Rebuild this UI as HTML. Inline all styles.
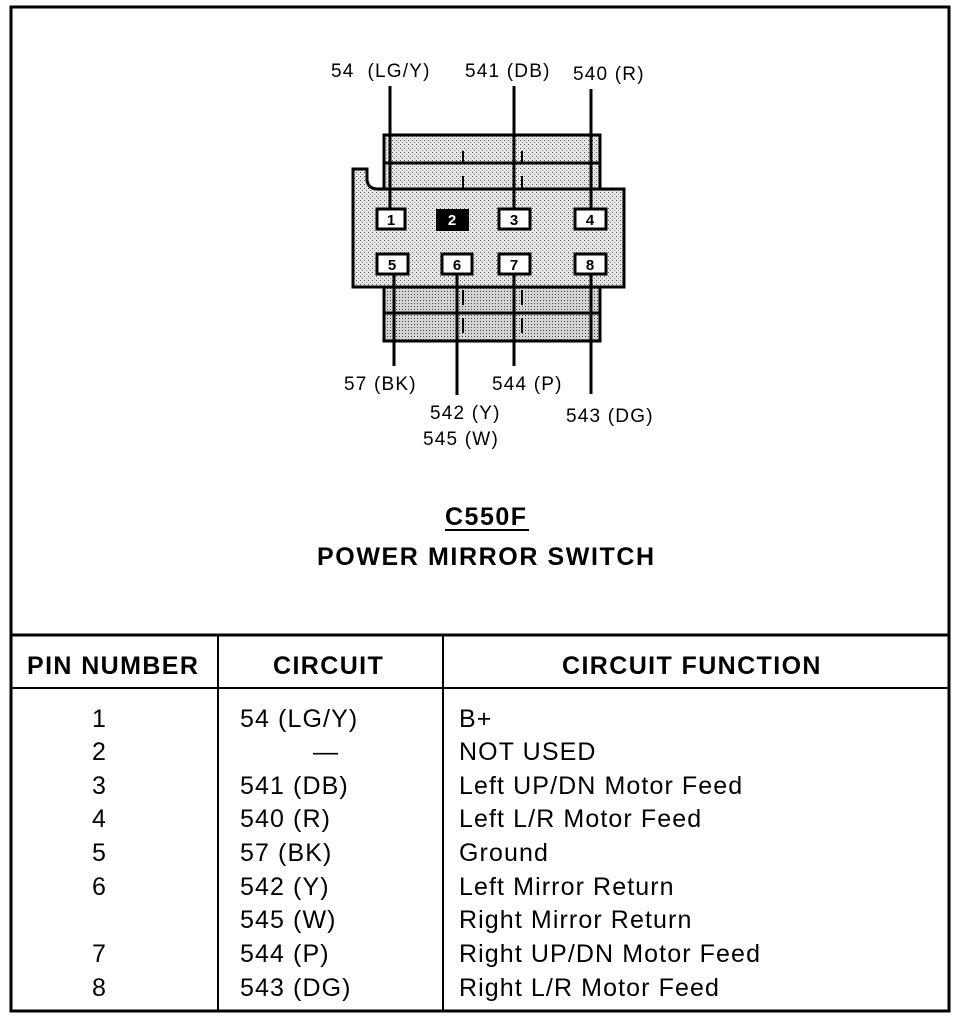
<!DOCTYPE html>
<html><head><style>
html,body{margin:0;padding:0;background:#fff;}
svg{display:block;}
text{font-family:"Liberation Sans",Arial,sans-serif;fill:#000;}
</style></head><body>
<svg width="960" height="1018" viewBox="0 0 960 1018" xmlns="http://www.w3.org/2000/svg">
<defs>
<pattern id="dots" width="4" height="4" patternUnits="userSpaceOnUse">
<rect width="4" height="4" fill="#e6e6e6"/>
<rect x="0" y="0" width="1" height="1" fill="#555"/>
<rect x="2" y="2" width="1" height="1" fill="#888"/>
</pattern>
<pattern id="dots2" width="3" height="3" patternUnits="userSpaceOnUse">
<rect width="3" height="3" fill="#d4d4d4"/>
<rect x="0" y="0" width="1" height="1" fill="#444"/>
</pattern>
</defs>
<rect x="11" y="7" width="938" height="1004" fill="none" stroke="#000" stroke-width="3"/>
<line x1="11" y1="635" x2="949" y2="635" stroke="#000" stroke-width="3"/>
<line x1="11" y1="688" x2="949" y2="688" stroke="#000" stroke-width="2"/>
<line x1="218" y1="635" x2="218" y2="1011" stroke="#000" stroke-width="2"/>
<line x1="443" y1="635" x2="443" y2="1011" stroke="#000" stroke-width="2"/>

<rect x="384" y="135" width="216" height="55" fill="url(#dots)" stroke="#000" stroke-width="3"/>
<line x1="384" y1="163" x2="600" y2="163" stroke="#000" stroke-width="3"/>
<rect x="384" y="285" width="216" height="56" fill="url(#dots2)" stroke="#000" stroke-width="3"/>
<line x1="384" y1="313" x2="600" y2="313" stroke="#000" stroke-width="3"/>
<path d="M353 169 L367 169 L367 180 Q368 189 378 189 L624 189 L624 287 L353 287 Z" fill="url(#dots)" stroke="#000" stroke-width="3"/>
<g stroke="#000" stroke-width="2">
<line x1="463" y1="151" x2="463" y2="162"/><line x1="522" y1="151" x2="522" y2="162"/>
<line x1="463" y1="176" x2="463" y2="188"/><line x1="522" y1="176" x2="522" y2="188"/>
<line x1="463" y1="290" x2="463" y2="305"/><line x1="522" y1="290" x2="522" y2="305"/>
<line x1="463" y1="318" x2="463" y2="333"/><line x1="522" y1="318" x2="522" y2="333"/>
</g>
<g stroke="#000" stroke-width="3">
<line x1="390" y1="86" x2="390" y2="209"/>
<line x1="514" y1="86" x2="514" y2="209"/>
<line x1="591" y1="89" x2="591" y2="209"/>
<line x1="394" y1="274" x2="394" y2="366"/>
<line x1="457" y1="274" x2="457" y2="395"/>
<line x1="514" y1="274" x2="514" y2="366"/>
<line x1="591" y1="274" x2="591" y2="394"/>
</g>
<g stroke="#000" stroke-width="3" fill="#fff">
<rect x="377" y="209" width="28" height="20"/>
<rect x="499" y="209" width="31" height="20"/>
<rect x="575" y="209" width="31" height="20"/>
<rect x="377" y="254" width="31" height="20"/>
<rect x="442" y="254" width="30" height="20"/>
<rect x="499" y="254" width="31" height="20"/>
<rect x="575" y="254" width="31" height="20"/>
</g>
<rect x="436" y="209" width="33" height="22" fill="#000"/>
<g font-size="15" font-weight="bold" text-anchor="middle">
<text x="391" y="225">1</text>
<text x="452" y="225" style="fill:#fff">2</text>
<text x="514" y="225">3</text>
<text x="590" y="225">4</text>
<text x="392" y="270">5</text>
<text x="457" y="270">6</text>
<text x="514" y="270">7</text>
<text x="590" y="270">8</text>
</g>
<g font-size="19" letter-spacing="1.2">
<text x="331" y="77" xml:space="preserve">54  (LG/Y)</text>
<text x="465" y="77">541 (DB)</text>
<text x="573" y="80">540 (R)</text>
<text x="344" y="390">57 (BK)</text>
<text x="492" y="390">544 (P)</text>
<text x="430" y="419">542 (Y)</text>
<text x="423" y="445">545 (W)</text>
<text x="566" y="422">543 (DG)</text>
</g>
<text x="445" y="525" font-size="25" font-weight="bold" letter-spacing="1.5">C550F</text>
<line x1="445" y1="530" x2="529" y2="530" stroke="#000" stroke-width="2"/>
<text x="317" y="565" font-size="25" font-weight="bold" letter-spacing="1.6">POWER MIRROR SWITCH</text>
<g font-size="25" font-weight="bold" letter-spacing="1.4">
<text x="27" y="674">PIN NUMBER</text>
<text x="273" y="674">CIRCUIT</text>
<text x="562" y="674">CIRCUIT FUNCTION</text>
</g>
<g font-size="25" letter-spacing="1.1">
<text x="92" y="727">1</text>
<text x="92" y="760">2</text>
<text x="92" y="794">3</text>
<text x="92" y="827">4</text>
<text x="92" y="861">5</text>
<text x="92" y="895">6</text>
<text x="92" y="962">7</text>
<text x="92" y="996">8</text>
<text x="313" y="760">—</text>
<text x="240" y="727">54 (LG/Y)</text>
<text x="240" y="794">541 (DB)</text>
<text x="240" y="827">540 (R)</text>
<text x="240" y="861">57 (BK)</text>
<text x="240" y="895">542 (Y)</text>
<text x="240" y="928">545 (W)</text>
<text x="240" y="962">544 (P)</text>
<text x="240" y="996">543 (DG)</text>
<text x="459" y="727">B+</text>
<text x="459" y="760">NOT USED</text>
<text x="459" y="794">Left UP/DN Motor Feed</text>
<text x="459" y="827">Left L/R Motor Feed</text>
<text x="459" y="861">Ground</text>
<text x="459" y="895">Left Mirror Return</text>
<text x="459" y="928">Right Mirror Return</text>
<text x="459" y="962">Right UP/DN Motor Feed</text>
<text x="459" y="996">Right L/R Motor Feed</text>
</g>
</svg>
</body></html>
